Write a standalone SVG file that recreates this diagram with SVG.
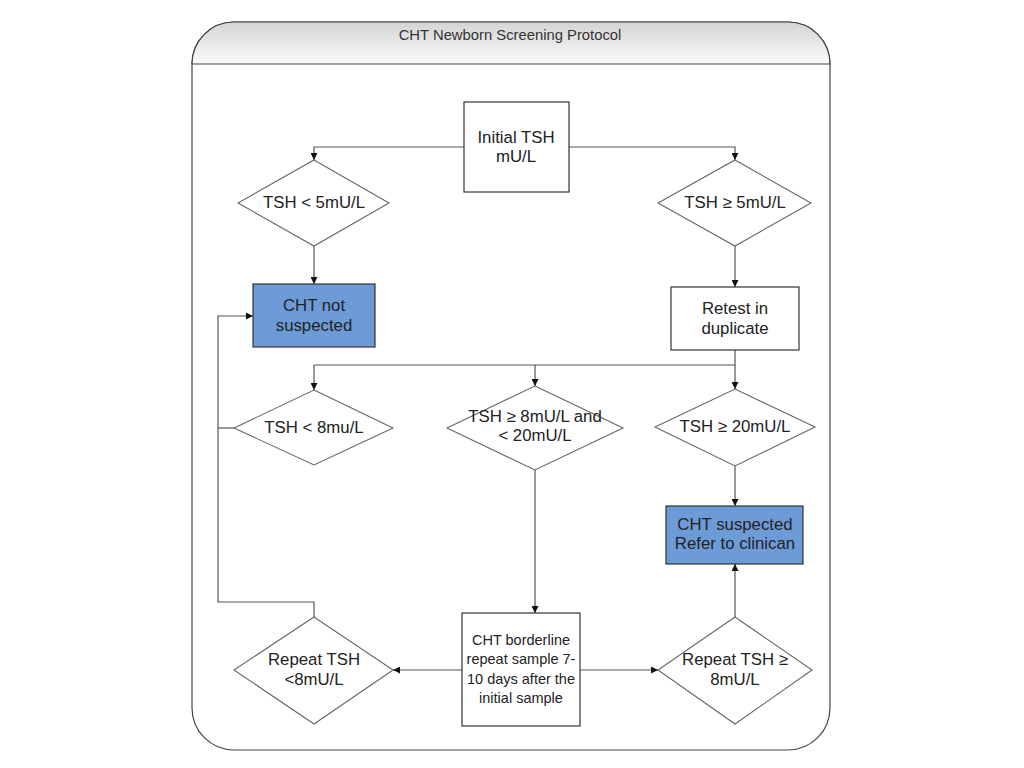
<svg xmlns="http://www.w3.org/2000/svg" width="1024" height="768" viewBox="0 0 1024 768">
<defs>
<linearGradient id="hdr" x1="0" y1="0" x2="0" y2="1">
<stop offset="0" stop-color="#d4d4d4"/>
<stop offset="1" stop-color="#fbfbfb"/>
</linearGradient>
<marker id="ah" viewBox="0 0 10 10" refX="10" refY="5" markerWidth="7" markerHeight="7" markerUnits="userSpaceOnUse" orient="auto">
<path d="M0,0 L10,5 L0,10 z" fill="#111"/>
</marker>
<style>
text{font-family:"Liberation Sans",Arial,sans-serif;font-size:16.8px;fill:#222;text-anchor:middle}
.title{font-size:14.8px;fill:#333}
.small{font-size:14.5px}
.box{fill:#fff;stroke:#333;stroke-width:1.2}
.blue{fill:#6d9bd8;stroke:#333;stroke-width:1.2}
.dia{fill:#fff;stroke:#666;stroke-width:1.1}
.con path{fill:none;stroke:#555;stroke-width:1.2}
.arr{marker-end:url(#ah)}
</style>
</defs>
<rect width="1024" height="768" fill="#fff"/>
<g id="container">
<rect x="192" y="22" width="638" height="728" rx="42" ry="42" fill="#fff" stroke="#444" stroke-width="1.2"/>
<path d="M192,64 L192,64 A42,42 0 0 1 234,22 L788,22 A42,42 0 0 1 830,64 Z" fill="url(#hdr)" stroke="#444" stroke-width="1.2"/>
<text class="title" x="510" y="40">CHT Newborn Screening Protocol</text>
</g>
<g class="con" id="connectors">
<path class="arr" d="M464,147 L314,147 L314,160"/>
<path class="arr" d="M569,147 L735,147 L735,160"/>
<path class="arr" d="M314,246 L314,284"/>
<path class="arr" d="M735,246 L735,287"/>
<path d="M735,350 L735,365 L314,365"/>
<path class="arr" d="M314,365 L314,390"/>
<path class="arr" d="M535,365 L535,386"/>
<path class="arr" d="M735,365 L735,389"/>
<path d="M234,428 L218,428"/>
<path class="arr" d="M314,617 L314,602 L218,602 L218,316 L253,316"/>
<path class="arr" d="M535,470 L535,613"/>
<path class="arr" d="M735,466 L735,506"/>
<path class="arr" d="M462,670 L393,670"/>
<path class="arr" d="M580,670 L658,670"/>
<path class="arr" d="M735,617 L735,564"/>
</g>
<g id="initial">
<rect class="box" x="464" y="102" width="105" height="90"/>
<text x="516" y="143">Initial TSH</text>
<text x="516" y="162">mU/L</text>
</g>
<g id="tshlt5">
<polygon class="dia" points="314,160 389,203 314,246 238,203"/>
<text x="314" y="208">TSH &lt; 5mU/L</text>
</g>
<g id="tshge5">
<polygon class="dia" points="735,160 811,203 735,246 658,203"/>
<text x="735" y="208">TSH ≥ 5mU/L</text>
</g>
<g id="notsuspected">
<rect class="blue" x="253" y="284" width="122" height="63"/>
<text x="314" y="311">CHT not</text>
<text x="314" y="331">suspected</text>
</g>
<g id="retest">
<rect class="box" x="671" y="287" width="128" height="63"/>
<text x="735" y="314">Retest in</text>
<text x="735" y="334">duplicate</text>
</g>
<g id="tshlt8">
<polygon class="dia" points="314,390 393,428 314,465 234,428"/>
<text x="314" y="433">TSH &lt; 8mu/L</text>
</g>
<g id="tshmid">
<polygon class="dia" points="535,386 623,428 535,470 447,428"/>
<text x="535" y="422">TSH ≥ 8mU/L and</text>
<text x="535" y="441">&lt; 20mU/L</text>
</g>
<g id="tshge20">
<polygon class="dia" points="735,389 815,427 735,466 655,427"/>
<text x="735" y="432">TSH ≥ 20mU/L</text>
</g>
<g id="suspected">
<rect class="blue" x="666" y="506" width="137" height="58"/>
<text x="735" y="530">CHT suspected</text>
<text x="735" y="549">Refer to clinican</text>
</g>
<g id="borderline">
<rect class="box" x="462" y="613" width="118" height="113"/>
<text class="small" x="521" y="645">CHT borderline</text>
<text class="small" x="521" y="664">repeat sample 7-</text>
<text class="small" x="521" y="684">10 days after the</text>
<text class="small" x="521" y="703">initial sample</text>
</g>
<g id="repeatlt8">
<polygon class="dia" points="314,617 393,670 314,724 234,670"/>
<text x="314" y="665">Repeat TSH</text>
<text x="314" y="685">&lt;8mU/L</text>
</g>
<g id="repeatge8">
<polygon class="dia" points="735,617 812,670 735,724 658,670"/>
<text x="735" y="665">Repeat TSH ≥</text>
<text x="735" y="685">8mU/L</text>
</g>
</svg>
